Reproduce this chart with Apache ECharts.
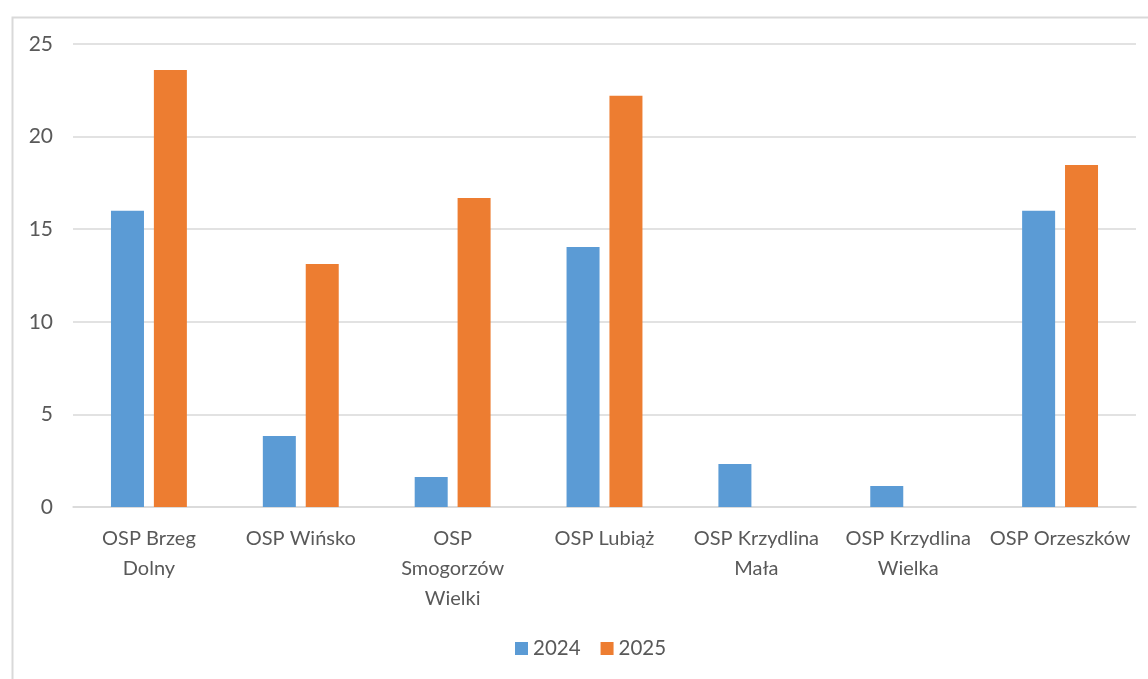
<!DOCTYPE html>
<html>
<head>
<meta charset="utf-8">
<script src="https://cdn.jsdelivr.net/npm/echarts@6/dist/echarts.min.js"></script>
<style>html,body{margin:0;padding:0;background:#fff;}#c{width:1148px;height:679px;}</style>
</head>
<body>
<div id="c"></div>
<script>
const categories = ["OSP Brzeg\nDolny", "OSP Wińsko", "OSP\nSmogorzów\nWielki", "OSP Lubiąż", "OSP Krzydlina\nMała", "OSP Krzydlina\nWielka", "OSP Orzeszków"];
const seriesNames = ["2024", "2025"];
const values2024 = [16, 3.83, 1.62, 14.04, 2.32, 1.13, 16];
const values2025 = [23.6, 13.12, 16.68, 22.2, 0, 0, 18.47];
const yTicks = { min: 0, max: 25, interval: 5 };

const font = "Lato, 'Open Sans', sans-serif";
const chart = echarts.init(document.getElementById('c'));
chart.setOption({
  animation: false,
  backgroundColor: '#fff',
  graphic: [{
    type: 'rect', left: 10, top: 15, silent: true,
    shape: { width: 1200, height: 700 },
    style: { fill: 'none', stroke: '#D9D9D9', lineWidth: 2 }
  }],
  grid: { left: 73, right: 12, top: 44, bottom: 172, containLabel: false },
  legend: {
    bottom: 15, left: 510,
    itemWidth: 13, itemHeight: 13, itemGap: 20,
    icon: 'rect',
    textStyle: { color: '#595959', fontSize: 20.5, fontFamily: font },
    data: seriesNames
  },
  xAxis: {
    type: 'category', data: categories,
    axisLine: { lineStyle: { color: '#D9D9D9', width: 1.5 } },
    axisTick: { show: false },
    axisLabel: { color: '#595959', fontSize: 20, fontFamily: font, lineHeight: 30, margin: 17, interval: 0 }
  },
  yAxis: {
    type: 'value', min: yTicks.min, max: yTicks.max, interval: yTicks.interval,
    axisLine: { show: false }, axisTick: { show: false },
    axisLabel: { color: '#595959', fontSize: 21, fontFamily: font, margin: 20 },
    splitLine: { lineStyle: { color: '#D9D9D9', width: 1.5 } }
  },
  series: [
    { name: seriesNames[0], type: 'bar', data: values2024, barWidth: 33, barGap: '30%', itemStyle: { color: '#5B9BD5' } },
    { name: seriesNames[1], type: 'bar', data: values2025, barWidth: 33, barGap: '30%', itemStyle: { color: '#ED7D31' } }
  ]
});
</script>
</body>
</html>
